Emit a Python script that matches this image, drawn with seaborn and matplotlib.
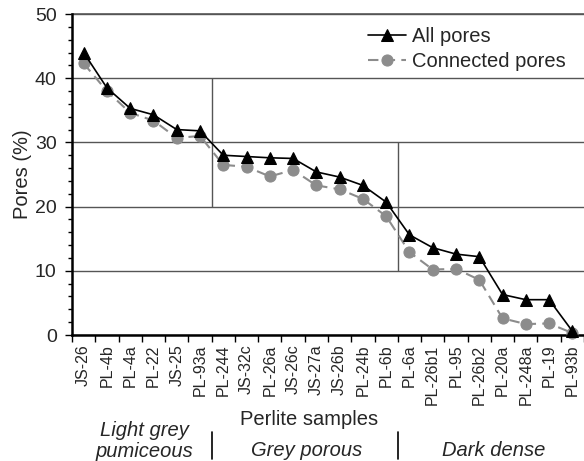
import matplotlib
matplotlib.use("Agg")
import matplotlib.pyplot as plt
import matplotlib.transforms as mtransforms
from matplotlib.lines import Line2D
from matplotlib.ticker import MultipleLocator, FixedLocator
import numpy as np
import seaborn as sns

# ---- data ----
samples = ["JS-26", "PL-4b", "PL-4a", "PL-22", "JS-25", "PL-93a",
           "PL-244", "JS-32c", "PL-26a", "JS-26c", "JS-27a", "JS-26b", "PL-24b", "PL-6b",
           "PL-6a", "PL-26b1", "PL-95", "PL-26b2", "PL-20a", "PL-248a", "PL-19", "PL-93b"]
all_pores = [44.0, 38.5, 35.3, 34.3, 32.0, 31.8,
             28.0, 27.8, 27.6, 27.5, 25.4, 24.6, 23.3, 20.7,
             15.6, 13.6, 12.6, 12.2, 6.3, 5.5, 5.5, 0.6]
connected_pores = [42.3, 38.0, 34.6, 33.4, 30.7, 31.0,
                   26.5, 26.2, 24.7, 25.7, 23.3, 22.7, 21.2, 18.5,
                   12.9, 10.2, 10.3, 8.6, 2.6, 1.7, 1.8, 0.3]
group_names = ["Light grey\npumiceous", "Grey porous", "Dark dense"]
group_first = [0, 6, 14]
group_last = [5, 13, 21]
# y range of each vertical divider inside the plot
divider_ranges = [(20, 40), (10, 30)]

sns.set_style("white")
plt.rcParams["font.family"] = ["Liberation Sans", "DejaVu Sans"]

fig = plt.figure(figsize=(5.84, 4.61), dpi=100)
W, H = 584, 461
ax = fig.add_axes([72 / W, 1 - 335 / H, (584 - 72) / W, (335 - 14) / H])

pos = np.arange(len(samples))
sns.lineplot(x=pos, y=all_pores, ax=ax, color="black", marker="^", markersize=8,
             markeredgecolor="black", linewidth=1.2, label="All pores", clip_on=False, zorder=4)
sns.lineplot(x=pos, y=connected_pores, ax=ax, color="#8c8c8c", marker="o", markersize=8,
             markeredgecolor="#8c8c8c", linewidth=1.5, linestyle=(0, (5, 3)),
             label="Connected pores", clip_on=False, zorder=3)

ax.set_xlim(-0.5, len(samples) - 0.5)
ax.set_ylim(0, 50)
ax.yaxis.set_major_locator(MultipleLocator(10))
ax.yaxis.set_minor_locator(MultipleLocator(2))
ax.set_xticks(pos)
ax.set_xticklabels(samples, rotation=90, fontsize=11.5)
ax.xaxis.set_minor_locator(FixedLocator(np.arange(-0.5, len(samples), 1)))
ax.tick_params(axis="x", which="major", length=0, pad=7)
ax.tick_params(axis="x", which="minor", length=5, width=1, color="black", direction="out", bottom=True)
ax.tick_params(axis="y", which="major", length=5, width=1, color="black", direction="out",
               labelsize=14, pad=6, left=True)
ax.tick_params(axis="y", which="minor", length=3, width=1, color="black", direction="out", left=True)

ax.yaxis.grid(True, color="#555555", linewidth=1.0)
ax.xaxis.grid(False)
ax.set_axisbelow(True)
ax.axhline(50, color="#555555", linewidth=1.2, clip_on=False, zorder=1)
for s in ["top", "right"]:
    ax.spines[s].set_visible(False)
for s in ["left", "bottom"]:
    ax.spines[s].set_color("black")
    ax.spines[s].set_linewidth(1.8)

# dividers between groups inside the plot
for k, (y0, y1) in enumerate(divider_ranges):
    xb = group_last[k] + 0.5
    ax.vlines(xb, y0, y1, color="#555555", linewidth=1.0, zorder=1)

ax.set_ylabel("Pores (%)", fontsize=14.5)
ax.yaxis.set_label_coords(-0.078, 0.5)
ax.set_xlabel("")
ax.text(0.463, -0.262, "Perlite samples", transform=ax.transAxes, ha="center", va="center", fontsize=14.5)

trans = mtransforms.blended_transform_factory(ax.transData, ax.transAxes)
for name, a, b in zip(group_names, group_first, group_last):
    xc = (a + b) / 2 + 0.1
    if "\n" in name:
        ax.text(xc, -0.33, name, transform=trans, ha="center", va="center",
                fontsize=14.5, style="italic", multialignment="center", linespacing=1.15)
    else:
        ax.text(xc, -0.36, name, transform=trans, ha="center", va="center",
                fontsize=14.5, style="italic")
for b in group_last[:-1]:
    ax.add_line(Line2D([b + 0.5, b + 0.5], [-0.302, -0.386], transform=trans,
                       color="black", linewidth=1.2, clip_on=False))

leg = ax.legend(loc="upper left", bbox_to_anchor=(0.562, 0.985), frameon=False, fontsize=14.5,
                handlelength=1.9, handletextpad=0.3, labelspacing=0.32, borderaxespad=0, numpoints=1)

fig.savefig("out.png", dpi=100)
